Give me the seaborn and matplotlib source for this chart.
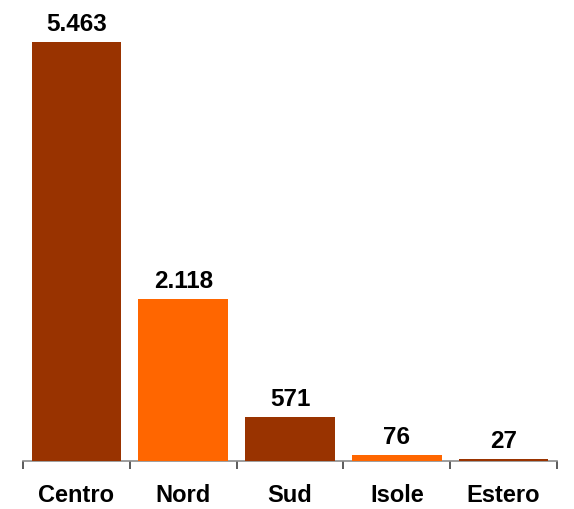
import matplotlib
matplotlib.use("Agg")
import numpy as np
import pandas as pd
import seaborn as sns
import matplotlib.pyplot as plt

# data
regioni = ["Centro", "Nord", "Sud", "Isole", "Estero"]
valori = [5463, 2118, 571, 76, 27]
colori = ["#993300", "#FF6600", "#993300", "#FF6600", "#993300"]

df = pd.DataFrame({"regione": regioni, "valore": valori})

sns.set_style("white")
plt.rcParams['font.family'] = ['Liberation Sans', 'DejaVu Sans']

fig = plt.figure(figsize=(5.74, 5.10), dpi=100)
ax = fig.add_axes([23 / 574, 48 / 510, 534 / 574, 452 / 510])

sns.barplot(data=df, x="regione", y="valore", hue="regione", palette=colori,
            width=0.84, saturation=1, legend=False, linewidth=0, ax=ax)
for p in ax.patches:
    p.set_zorder(3)

# value labels, italian thousands separator
for i, v in enumerate(valori):
    ax.annotate(f"{v:,}".replace(",", "."), (i, v), xytext=(0, 5),
                textcoords="offset points", ha="center", va="bottom",
                fontsize=17.5, fontweight="bold", color="black")

ax.set_xlim(-0.5, len(regioni) - 0.5)
ax.set_ylim(0, 5463 * 452 / 419)
ax.set_xlabel("")
ax.set_ylabel("")
ax.set_yticks([])

for s in ["top", "right", "left"]:
    ax.spines[s].set_visible(False)
ax.spines["bottom"].set_color("#8c8c8c")
ax.spines["bottom"].set_linewidth(1.2)
ax.spines["bottom"].set_zorder(1)

# ticks between categories
ax.set_xticks(np.arange(-0.5, len(regioni)), minor=True)
ax.tick_params(axis="x", which="minor", length=6, width=1.2, color="#404040",
               direction="out", bottom=True)
ax.tick_params(axis="x", which="major", length=0, pad=16, labelsize=17,
               labelcolor="black")
for lab in ax.get_xticklabels():
    lab.set_fontweight("bold")

fig.savefig("out.png", dpi=100)
